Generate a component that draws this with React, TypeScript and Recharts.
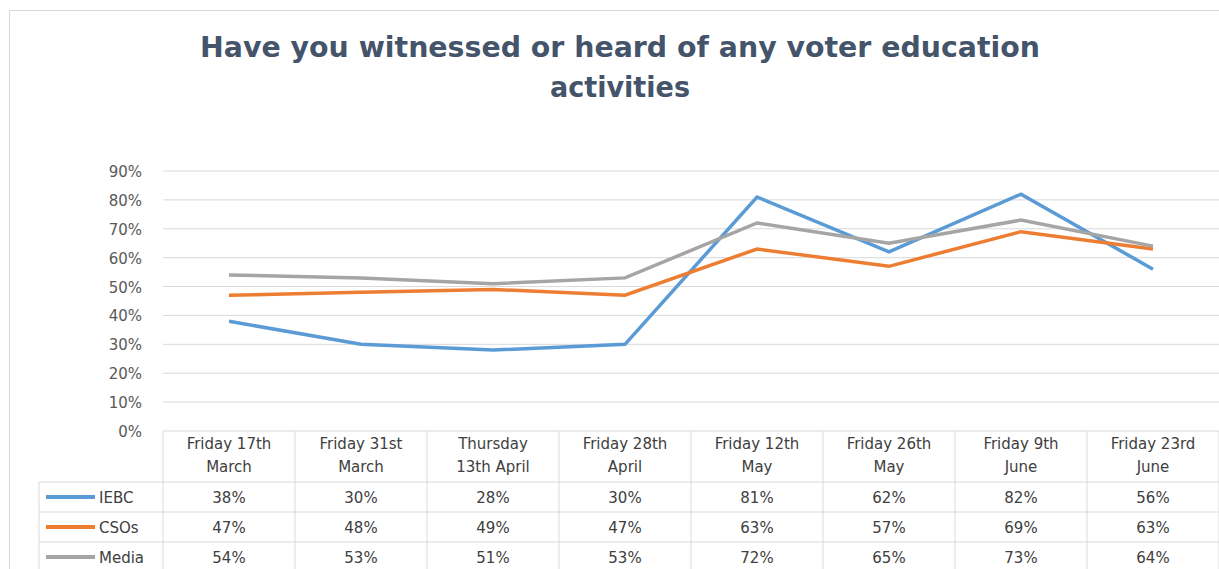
import { CartesianGrid, Line, LineChart, XAxis, YAxis } from "recharts"

const categories = [
  ["Friday 17th", "March"],
  ["Friday 31st", "March"],
  ["Thursday", "13th April"],
  ["Friday 28th", "April"],
  ["Friday 12th", "May"],
  ["Friday 26th", "May"],
  ["Friday 9th", "June"],
  ["Friday 23rd", "June"],
]
const iebc = [38, 30, 28, 30, 81, 62, 82, 56]
const csos = [47, 48, 49, 47, 63, 57, 69, 63]
const media = [54, 53, 51, 53, 72, 65, 73, 64]
const yTicks = [0, 10, 20, 30, 40, 50, 60, 70, 80, 90]

const series = [
  { key: "IEBC", values: iebc, color: "#5B9BD5" },
  { key: "CSOs", values: csos, color: "#ED7D31" },
  { key: "Media", values: media, color: "#A5A5A5" },
]

const data = categories.map((c, i) => ({
  name: c.join(" "),
  IEBC: iebc[i],
  CSOs: csos[i],
  Media: media[i],
}))

const W = 1219
const H = 569
const TOP = 431
const COL = 132
const GRID = "#D9D9D9"
const FONT = "'DejaVu Sans', sans-serif"

function TableTick(props: any) {
  const { x, payload } = props
  const i = payload.index
  const rows = [482, 512, 542]
  return (
    <g fontFamily={FONT} fontSize={15} fill="#404040">
      {i === 0 && (
        <g>
          {rows.map((ry) => (
            <line key={ry} x1={39} x2={W} y1={ry} y2={ry} stroke={GRID} />
          ))}
          <line x1={39} x2={39} y1={482} y2={H} stroke={GRID} />
          <line x1={x - COL / 2} x2={x - COL / 2} y1={TOP} y2={H} stroke={GRID} />
          {series.map((s, k) => (
            <g key={s.key}>
              <line x1={46} x2={95} y1={rows[k] + 15} y2={rows[k] + 15} stroke={s.color} strokeWidth={4} />
              <text x={99} y={rows[k] + 21} textAnchor="start" fill="#404040">
                {s.key}
              </text>
            </g>
          ))}
        </g>
      )}
      <line x1={x + COL / 2} x2={x + COL / 2} y1={TOP} y2={H} stroke={GRID} />
      <text x={x} y={449} textAnchor="middle">{categories[i][0]}</text>
      <text x={x} y={472} textAnchor="middle">{categories[i][1]}</text>
      {series.map((s, k) => (
        <text key={s.key} x={x} y={rows[k] + 21} textAnchor="middle">
          {s.values[i]}%
        </text>
      ))}
    </g>
  )
}

function YTick(props: any) {
  const { y, payload } = props
  return (
    <text x={142} y={y + 6} textAnchor="end" fontFamily={FONT} fontSize={15} fill="#595959">
      {payload.value}%
    </text>
  )
}

export default function App() {
  return (
    <div style={{ position: "absolute", left: 0, top: 0, width: W, height: H, overflow: "hidden", background: "#fff" }}>
      <div style={{ position: "absolute", left: 9, top: 10, width: W + 50, height: H + 50, border: `1px solid ${GRID}` }} />
      <svg style={{ position: "absolute", left: 0, top: 0 }} width={W} height={120}>
        <text x={620} y={57} textAnchor="middle" fontFamily={FONT} fontWeight="bold" fontSize={28} fill="#44546A" textLength={840} lengthAdjust="spacingAndGlyphs">
          Have you witnessed or heard of any voter education
        </text>
        <text x={620} y={97} textAnchor="middle" fontFamily={FONT} fontWeight="bold" fontSize={28} fill="#44546A" textLength={140} lengthAdjust="spacingAndGlyphs">
          activities
        </text>
      </svg>
      <div style={{ position: "absolute", left: 0, top: 0 }}>
        <LineChart width={W} height={H} data={data} margin={{ top: 171, right: 0, bottom: 0, left: 0 }}>
          <CartesianGrid vertical={false} stroke={GRID} />
          <XAxis
            dataKey="name"
            height={H - TOP}
            interval={0}
            padding={{ left: COL / 2, right: COL / 2 }}
            axisLine={false}
            tickLine={false}
            tick={<TableTick />}
          />
          <YAxis width={163} domain={[0, 90]} ticks={yTicks} axisLine={false} tickLine={false} tick={<YTick />} />
          {series.map((s) => (
            <Line key={s.key} dataKey={s.key} stroke={s.color} strokeWidth={3.5} dot={false} isAnimationActive={false} />
          ))}
        </LineChart>
      </div>
    </div>
  )
}
